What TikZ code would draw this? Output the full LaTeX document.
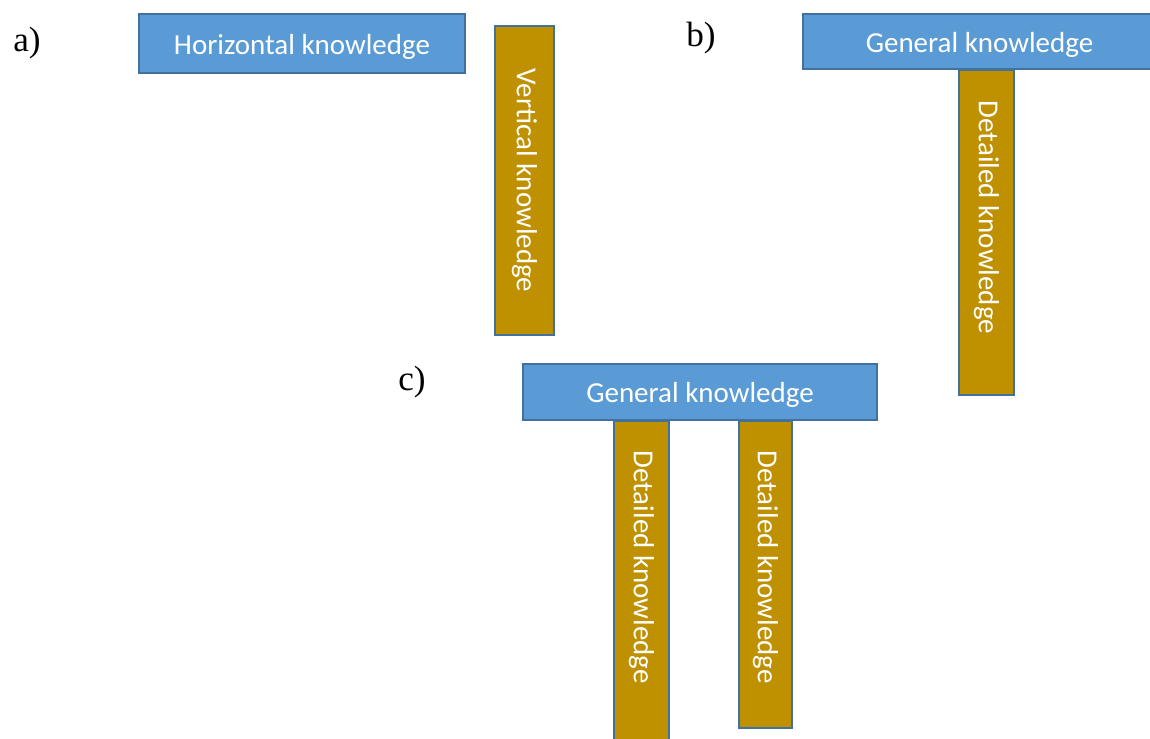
\documentclass[tikz,border=0pt]{standalone}
\usepackage{fontspec}
\setmainfont{Liberation Serif}
\newfontfamily\boxfont{Carlito}
\definecolor{genblue}{HTML}{5B9BD5}
\definecolor{edgeblue}{HTML}{41719C}
\definecolor{detgold}{HTML}{BF9000}
\tikzset{
  genbox/.style={draw=edgeblue, fill=genblue, line width=1pt, inner sep=0pt},
  detbox/.style={draw=edgeblue, fill=detgold, line width=1pt, inner sep=0pt},
  boxtext/.style={text=white, inner sep=0pt, font=\boxfont\fontsize{16.5}{20}\selectfont},
  parttag/.style={inner sep=0pt, font=\fontsize{20}{24}\selectfont}
}
\begin{document}
\begin{tikzpicture}[x=0.02cm, y=-0.02cm]
            \useasboundingbox (0,0) rectangle (1150,738);
            % a)
            \node[parttag] (ta) at (27,43) {a)};
            \node[genbox, minimum width=6.52cm, minimum height=1.18cm] (hk) at (302,43.5) {};
            \node[boxtext] (hkt) at ([yshift=-0.06cm]hk.center) {Horizontal knowledge};
            \node[detbox, minimum width=1.18cm, minimum height=6.18cm] (vk) at (524.5,180.5) {};
            \node[boxtext, rotate=-90] (vkt) at (vk.center) {Vertical knowledge};
            % b)
            \node[parttag] (tb) at (701,38) {b)};
            \node[detbox, minimum width=1.1cm, minimum height=6.5cm, anchor=north] (db) at (986.5,69) {};
            \node[genbox, minimum width=7.06cm, minimum height=1.1cm] (gb) at (979.5,41.5) {};
            \node[boxtext] (gbt) at ([yshift=-0.06cm]gb.center) {General knowledge};
            \node[boxtext, rotate=-90] (dbt) at ([yshift=0.3cm]db.center) {Detailed knowledge};
            % c)
            \node[parttag] (tc) at (412,382) {c)};
            \node[detbox, minimum width=1.1cm, minimum height=6.6cm, anchor=north] (dc1) at (641.5,420) {};
            \node[detbox, minimum width=1.06cm, minimum height=6.14cm, anchor=north] (dc2) at (765.5,420) {};
            \node[genbox, minimum width=7.08cm, minimum height=1.12cm] (gc) at (700,392) {};
            \node[boxtext] (gct) at ([yshift=-0.06cm]gc.center) {General knowledge};
            \node[boxtext, rotate=-90] (dc1t) at (641.5,567) {Detailed knowledge};
            \node[boxtext, rotate=-90] (dc2t) at (765.5,567) {Detailed knowledge};
\end{tikzpicture}
\end{document}
